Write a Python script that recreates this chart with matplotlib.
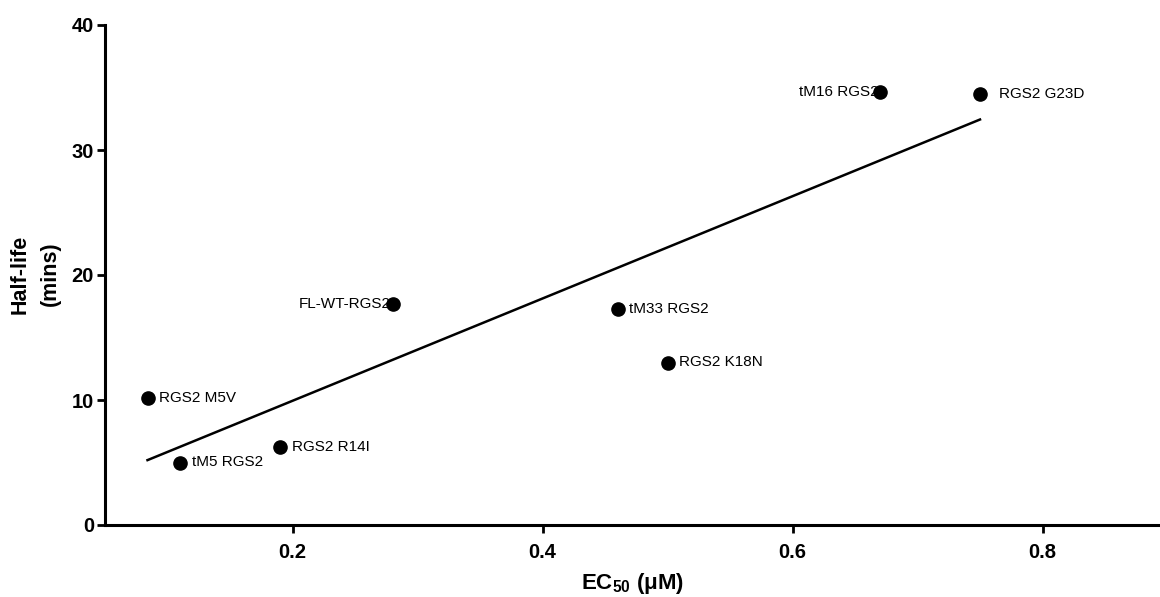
import numpy as np
import matplotlib
matplotlib.use("Agg")
import matplotlib.pyplot as plt

# Datos
etiquetas = ['RGS2 M5V', 'tM5 RGS2', 'RGS2 R14I', 'FL-WT-RGS2',
             'tM33 RGS2', 'RGS2 K18N', 'tM16 RGS2', 'RGS2 G23D']
ec50 = [0.084, 0.11, 0.19, 0.28, 0.46, 0.50, 0.67, 0.75]
vida_media = [10.2, 5.0, 6.27, 17.68, 17.3, 13.0, 34.67, 34.45]
lado = ['r', 'r', 'r', 'l', 'r', 'r', 'l', 'r']

plt.rcParams['font.family'] = ['Liberation Sans', 'DejaVu Sans']
plt.rcParams['mathtext.fontset'] = 'custom'
plt.rcParams['mathtext.rm'] = 'Liberation Sans'
plt.rcParams['mathtext.bf'] = 'Liberation Sans:bold'

fig = plt.figure(figsize=(11.6, 5.97), dpi=100)
ax = fig.add_axes([105 / 1160, 72 / 597, 1055 / 1160, 500 / 597])

# Puntos
ax.plot(ec50, vida_media, 'o', color='black', markersize=9.5, clip_on=False)

# Recta de regresión lineal
pendiente, corte = np.polyfit(ec50, vida_media, 1)
xs = np.array([min(ec50), max(ec50)])
ax.plot(xs, pendiente * xs + corte, color='black', lw=1.8)

# Etiquetas de cada punto
for nombre, x, y, l in zip(etiquetas, ec50, vida_media, lado):
    if l == 'l':
        ax.annotate(nombre, (x, y), xytext=(-1, 0), textcoords='offset points',
                    ha='right', va='center', fontsize=11)
    else:
        dx = 14 if nombre == 'RGS2 G23D' else 8.5
        ax.annotate(nombre, (x, y), xytext=(dx, 0), textcoords='offset points',
                    ha='left', va='center', fontsize=11)

ax.set_xlim(0.05, 0.894)
ax.set_ylim(0, 40)
ax.set_xticks([0.2, 0.4, 0.6, 0.8])
ax.set_xticklabels(['0.2', '0.4', '0.6', '0.8'])
ax.set_yticks([0, 10, 20, 30, 40])

for s in ['top', 'right']:
    ax.spines[s].set_visible(False)
for s in ['left', 'bottom']:
    ax.spines[s].set_linewidth(2.2)

ax.tick_params(axis='both', direction='out', length=6, width=2, labelsize=14.5)
ax.tick_params(axis='x', pad=7)
ax.tick_params(axis='y', pad=2)
for t in ax.get_xticklabels() + ax.get_yticklabels():
    t.set_fontweight('bold')

fig.text(633 / 1160, 1 - 584 / 597, r'EC$_{\mathbf{50}}$ (μM)',
         ha='center', va='center', fontsize=16, fontweight='bold')

fig.text(35 / 1160, 1 - 274 / 597, 'Half-life\n(mins)', rotation=90,
         ha='center', va='center', fontsize=15.5, fontweight='bold',
         linespacing=1.55, multialignment='center')

fig.savefig('out.png', dpi=100)
